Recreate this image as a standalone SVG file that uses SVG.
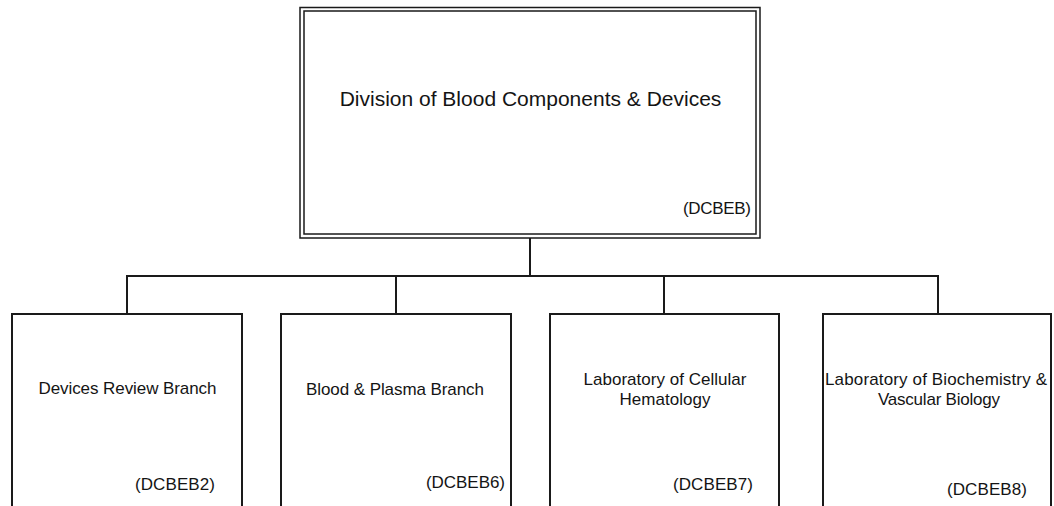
<svg xmlns="http://www.w3.org/2000/svg" width="1054" height="506" viewBox="0 0 1054 506">
<style>
.box{fill:#fff;stroke:#1a1a1a;stroke-width:2}
.dbl{fill:none;stroke:#1a1a1a;stroke-width:1.5}
.conn{fill:none;stroke:#1a1a1a;stroke-width:2}
text{font-family:"Liberation Sans",Arial,sans-serif;fill:#141414}
.t{font-size:17px;text-anchor:middle}
.c{font-size:17px}
.title{font-size:21px;text-anchor:middle}
</style>
<rect width="1054" height="506" fill="#fff"/>
<g id="connectors">
<path class="conn" d="M530,238 V276 M127,314 V276 H938 V314 M396,276 V314 M664,276 V314"/>
</g>
<g id="dcbeb">
<rect x="300" y="7.5" width="460" height="230.5" fill="#fff" class="dbl"/>
<rect x="304" y="11" width="452" height="223" class="dbl"/>
<text class="title" x="530.5" y="106">Division of Blood Components &amp; Devices</text>
<text class="c" x="683" y="214" textLength="68" lengthAdjust="spacing">(DCBEB)</text>
</g>
<g id="dcbeb2">
<rect class="box" x="12" y="314" width="230" height="200"/>
<text class="t" x="127.5" y="394" textLength="178" lengthAdjust="spacing">Devices Review Branch</text>
<text class="c" x="135" y="490" textLength="80" lengthAdjust="spacing">(DCBEB2)</text>
</g>
<g id="dcbeb6">
<rect class="box" x="281" y="314" width="230" height="200"/>
<text class="t" x="395" y="395" textLength="178" lengthAdjust="spacing">Blood &amp; Plasma Branch</text>
<text class="c" x="426" y="488" textLength="79" lengthAdjust="spacing">(DCBEB6)</text>
</g>
<g id="dcbeb7">
<rect class="box" x="550" y="314" width="229" height="200"/>
<text class="t" x="665" y="385" textLength="163" lengthAdjust="spacing">Laboratory of Cellular</text>
<text class="t" x="665" y="405" textLength="91" lengthAdjust="spacing">Hematology</text>
<text class="c" x="673" y="490" textLength="80" lengthAdjust="spacing">(DCBEB7)</text>
</g>
<g id="dcbeb8">
<rect class="box" x="823" y="314" width="228" height="200"/>
<text class="t" x="936" y="385" textLength="222" lengthAdjust="spacing">Laboratory of Biochemistry &amp;</text>
<text class="t" x="939" y="405" textLength="122" lengthAdjust="spacing">Vascular Biology</text>
<text class="c" x="947" y="495" textLength="80" lengthAdjust="spacing">(DCBEB8)</text>
</g>
</svg>
